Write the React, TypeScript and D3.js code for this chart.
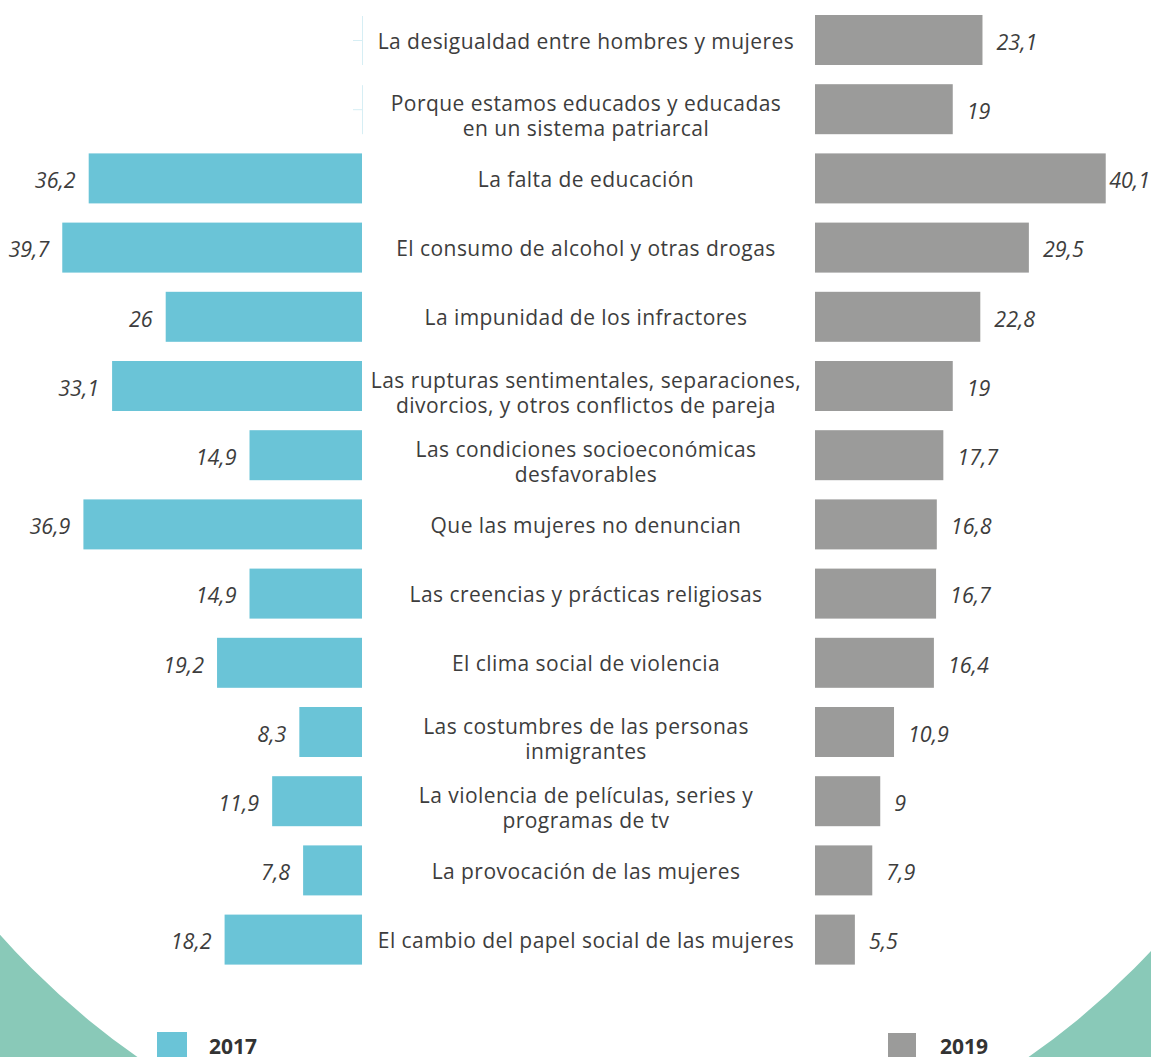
import React from "react";
import * as d3 from "d3";

const categories: string[][] = [
  ["La desigualdad entre hombres y mujeres"],
  ["Porque estamos educados y educadas", "en un sistema patriarcal"],
  ["La falta de educación"],
  ["El consumo de alcohol y otras drogas"],
  ["La impunidad de los infractores"],
  ["Las rupturas sentimentales, separaciones,", "divorcios, y otros conflictos de pareja"],
  ["Las condiciones socioeconómicas", "desfavorables"],
  ["Que las mujeres no denuncian"],
  ["Las creencias y prácticas religiosas"],
  ["El clima social de violencia"],
  ["Las costumbres de las personas", "inmigrantes"],
  ["La violencia de películas, series y", "programas de tv"],
  ["La provocación de las mujeres"],
  ["El cambio del papel social de las mujeres"],
];

const values2017: (number | null)[] = [null, null, 36.2, 39.7, 26, 33.1, 14.9, 36.9, 14.9, 19.2, 8.3, 11.9, 7.8, 18.2];
const values2019: number[] = [23.1, 19, 40.1, 29.5, 22.8, 19, 17.7, 16.8, 16.7, 16.4, 10.9, 9, 7.9, 5.5];
const seriesNames = ["2017", "2019"];

const W = 1151;
const H = 1057;
const COLOR_2017 = "#6ac4d7";
const COLOR_2019 = "#9b9b9a";
const TEAL = "#89c9b8";
const TEXT = "#3d3d3d";

const fmt = (v: number) => String(v).replace(".", ",");

export default function App() {
  const n = categories.length;
  const step = 69.2;
  const gap = 19.2;
  const y = d3
    .scaleBand<number>()
    .domain(d3.range(n))
    .range([15, 15 + step * n - gap])
    .paddingInner(gap / step)
    .paddingOuter(0);

  const leftZero = 362;
  const rightZero = 815;
  const xLeft = d3.scaleLinear().domain([0, 40]).range([0, 302]);
  const xRight = d3.scaleLinear().domain([0, 40]).range([0, 290]);
  const labelX = 586;

  const bw = y.bandwidth();
  const circle = { cx: 583, cy: 418, r: 779 };
  const bgPath =
    `M0,0H${W}V${H}H0Z ` +
    `M${circle.cx - circle.r},${circle.cy} a${circle.r},${circle.r} 0 1,0 ${2 * circle.r},0 a${circle.r},${circle.r} 0 1,0 ${-2 * circle.r},0Z`;

  return (
    <svg
      width={W}
      height={H}
      style={{ position: "absolute", left: 0, top: 0, background: "#fff" }}
      fontFamily="'Open Sans', sans-serif"
    >
      <path d={bgPath} fill={TEAL} fillRule="evenodd" />
      {categories.map((lines, i) => {
        const y0 = y(i)!;
        const cy = y0 + bw / 2;
        const v17 = values2017[i];
        const v19 = values2019[i];
        const lx = leftZero - (v17 == null ? 0 : xLeft(v17));
        const rx = rightZero + xRight(v19);
        let rLabelX = rx + 14;
        let rAnchor: "start" | "end" = "start";
        if (rLabelX + 42 > W) {
          rLabelX = W - 1;
          rAnchor = "end";
        }
        const lineH = 25;
        const offset = lines.length > 1 ? 9 : 3;
        return (
          <g key={i}>
            {v17 == null ? (
              <g stroke="#d6eef4" strokeWidth={1}>
                <line x1={leftZero + 0.5} x2={leftZero + 0.5} y1={y0 + 1} y2={y0 + bw} />
                <line x1={leftZero - 9} x2={leftZero} y1={cy + 0.5} y2={cy + 0.5} />
              </g>
            ) : (
              <>
                <rect x={lx} y={y0} width={leftZero - lx} height={bw} fill={COLOR_2017} />
                <text
                  x={lx - 13}
                  y={cy + 4}
                  textAnchor="end"
                  dominantBaseline="middle"
                  fontStyle="italic"
                  fontSize={21.5}
                  fill={TEXT}
                >
                  {fmt(v17)}
                </text>
              </>
            )}
            <rect x={rightZero} y={y0} width={rx - rightZero} height={bw} fill={COLOR_2019} />
            <text
              x={rLabelX}
              y={cy + 4}
              textAnchor={rAnchor}
              dominantBaseline="middle"
              fontStyle="italic"
              fontSize={21.5}
              fill={TEXT}
            >
              {fmt(v19)}
            </text>
            {lines.map((ln, k) => (
              <text
                key={k}
                x={labelX}
                y={cy + offset + (k - (lines.length - 1) / 2) * lineH}
                textAnchor="middle"
                dominantBaseline="middle"
                fontSize={21}
                letterSpacing={0.45}
                fill={TEXT}
              >
                {ln}
              </text>
            ))}
          </g>
        );
      })}
      <g>
        <rect x={157} y={1032} width={30} height={30} fill={COLOR_2017} />
        <text x={209} y={1054} fontSize={21} fontWeight="bold" fill="#333">
          {seriesNames[0]}
        </text>
        <rect x={888} y={1033} width={28} height={30} fill={COLOR_2019} />
        <text x={940} y={1054} fontSize={21} fontWeight="bold" fill="#333">
          {seriesNames[1]}
        </text>
      </g>
    </svg>
  );
}
